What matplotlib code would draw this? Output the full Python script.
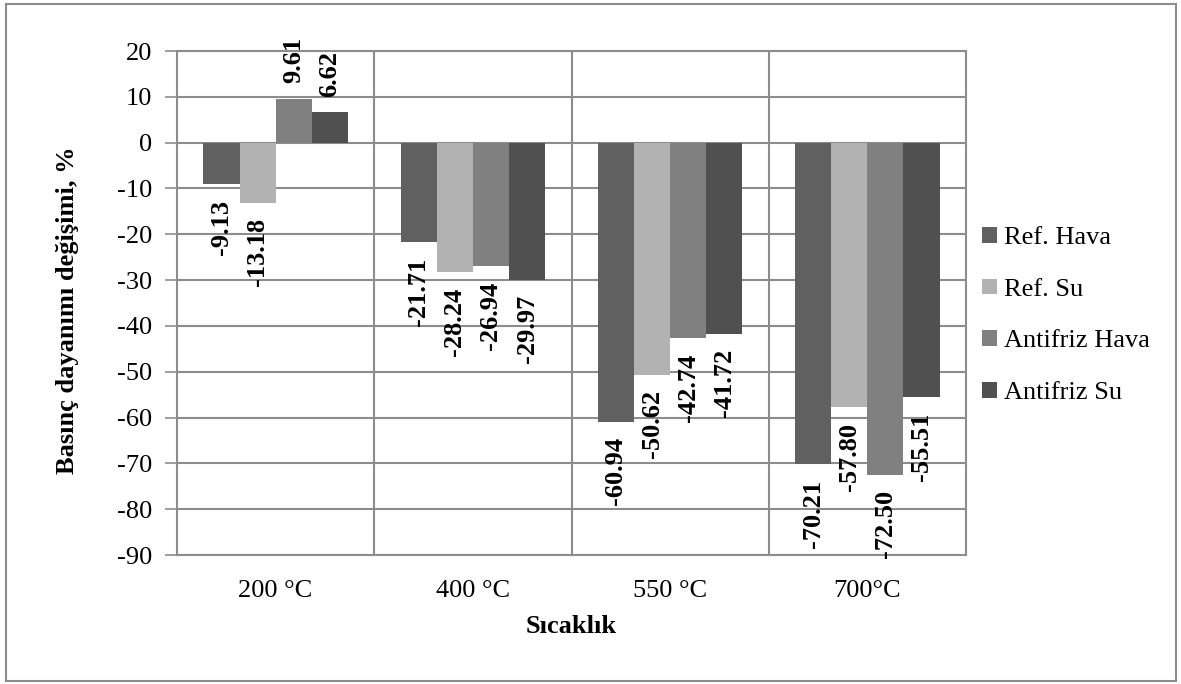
import matplotlib
matplotlib.use("Agg")
import matplotlib.pyplot as plt
import numpy as np
from matplotlib.patches import Rectangle

# Data
categories = ["200 °C", "400 °C", "550 °C", "700°C"]
series_names = ["Ref. Hava", "Ref. Su", "Antifriz Hava", "Antifriz Su"]
ref_hava = [-9.13, -21.71, -60.94, -70.21]
ref_su = [-13.18, -28.24, -50.62, -57.80]
antifriz_hava = [9.61, -26.94, -42.74, -72.50]
antifriz_su = [6.62, -29.97, -41.72, -55.51]
y_ticks = list(range(-90, 21, 10))

series = [ref_hava, ref_su, antifriz_hava, antifriz_su]
colors = ["#606060", "#b2b2b2", "#808080", "#505050"]

plt.rcParams["font.family"] = ["Liberation Serif", "DejaVu Serif"]

fig = plt.figure(figsize=(11.81, 6.84), dpi=100)
ax = fig.add_axes([177 / 1181, 1 - 555 / 684, (966 - 177) / 1181, (555 - 51) / 684])

grid_col = "#8c8c8c"
x = np.arange(len(categories))
bw = 0.183
offsets = (np.arange(4) - 1.5) * bw

for i, (vals, name, col) in enumerate(zip(series, series_names, colors)):
    ax.bar(x + offsets[i], vals, width=bw, color=col, label=name, zorder=3)
    for xi, v in zip(x + offsets[i], vals):
        off = 11 if v >= 0 else -11
        ax.annotate(f"{v:.2f}", (xi, v), xytext=(0, off), textcoords="offset points",
                    rotation=90, ha="center", va="bottom" if v >= 0 else "top",
                    fontsize=19, fontweight="bold", annotation_clip=False,
                    clip_on=False, zorder=5)

ax.set_ylim(-90, 20)
ax.set_xlim(-0.5, len(categories) - 0.5)
ax.set_yticks(y_ticks)
ax.set_yticklabels([str(t) for t in y_ticks], fontsize=19)
ax.set_xticks(x)
ax.set_xticklabels(categories, fontsize=19)
ax.tick_params(axis="x", length=0, pad=18)
ax.tick_params(axis="y", length=9, width=1.2, color=grid_col, direction="out", pad=9)

ax.yaxis.grid(True, color=grid_col, linewidth=1.5, zorder=1)
for b in np.arange(0.5, len(categories) - 0.5, 1.0):
    ax.axvline(b, color=grid_col, linewidth=1.5, zorder=1)
for s in ax.spines.values():
    s.set_color(grid_col)
    s.set_linewidth(1.5)
ax.set_axisbelow(True)

ax.set_xlabel("Sıcaklık", fontsize=19, fontweight="bold")
ax.xaxis.set_label_coords(0.5, -0.119)
ax.set_ylabel("Basınç dayanımı değişimi, %", fontsize=19, fontweight="bold")
ax.yaxis.set_label_coords(-0.124, 0.486)

ax.legend(loc="upper left", bbox_to_anchor=(982 / 1181, 1 - 227 / 684),
          bbox_transform=fig.transFigure, frameon=False, fontsize=19,
          handlelength=0.55, handleheight=0.55, handletextpad=0.3,
          labelspacing=1.11, borderaxespad=0, borderpad=0)

fig.patches.append(Rectangle((6 / 1181, 1 - 681 / 684), (1176 - 6) / 1181, (681 - 4) / 684,
                             transform=fig.transFigure, fill=False,
                             edgecolor="#8c8c8c", linewidth=1.5))

fig.savefig("out.png", dpi=100)
